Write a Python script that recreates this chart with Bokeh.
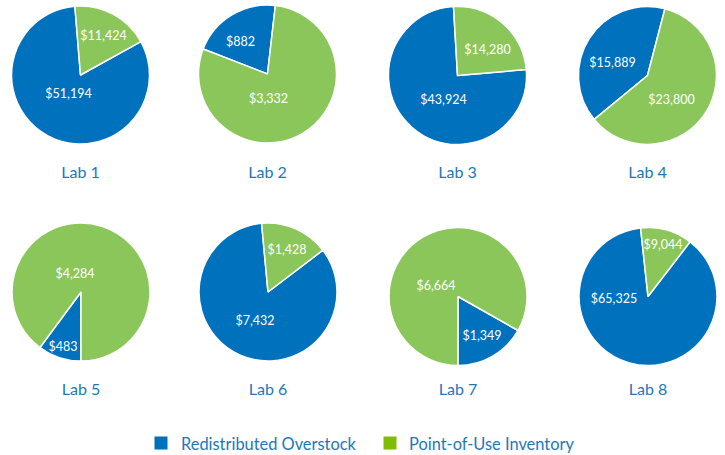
import numpy as np
from bokeh.plotting import figure
from bokeh.models import ColumnDataSource, Range1d
from bokeh.core.properties import value
from bokeh.embed import file_html
from bokeh.resources import INLINE

# ---- data ----
labs = ["Lab 1", "Lab 2", "Lab 3", "Lab 4", "Lab 5", "Lab 6", "Lab 7", "Lab 8"]
redistributed = [51194, 882, 43924, 15889, 483, 7432, 1349, 65325]
point_of_use = [11424, 3332, 14280, 23800, 4284, 1428, 6664, 9044]
series_names = ["Redistributed Overstock", "Point-of-Use Inventory"]

# ---- layout / style ----
W, H = 725, 455
BLUE = "#0071BC"
GREEN = "#8BC65B"
LEG_GREEN = "#80BD00"
TXT = "#2277BB"
FONT = "Lato"
cx = [80, 267, 457, 647, 80.5, 267.5, 457.5, 647.5]
cy = [74.5, 73.5, 75, 75, 291.5, 291.5, 296, 296]
R = 69
blue_start = [61, -68.8, 85, -129.5, 180, 52.7, 119.5, 37.6]   # clockwise deg from 12 o'clock
blue_off = [(-12, 18), (-27, -33), (-14, 24), (-35, -13), (-18, 54), (-13, 28), (24, 39), (-34, 2)]
green_off = [(23, -40), (1, 24), (30, -26), (24, 24), (-6, -19), (19, -43), (-22, -11), (15, -52)]
lab_y = [170.5, 170.5, 170.5, 170.5, 388, 388, 388, 388]

def fy(y):
    return H - y

wx, wy, ws, we, wc = [], [], [], [], []
tx, ty, tt = [], [], []
for i in range(len(labs)):
    b, g = redistributed[i], point_of_use[i]
    tot = b + g
    b_span = 360.0 * b / tot
    c0 = blue_start[i]
    c1 = c0 + b_span
    c2 = c0 + 360.0
    for (a, z, col) in [(c0, c1, BLUE), (c1, c2, GREEN)]:
        wx.append(cx[i]); wy.append(fy(cy[i]))
        ws.append(np.radians(90 - z)); we.append(np.radians(90 - a)); wc.append(col)
    tx.append(cx[i] + blue_off[i][0]); ty.append(fy(cy[i] + blue_off[i][1])); tt.append(f"${b:,}")
    tx.append(cx[i] + green_off[i][0]); ty.append(fy(cy[i] + green_off[i][1])); tt.append(f"${g:,}")

p = figure(width=W, height=H, x_range=Range1d(0, W), y_range=Range1d(0, H),
           output_backend="svg", toolbar_location=None, min_border=0,
           x_axis_location=None, y_axis_location=None)
p.grid.visible = False
p.outline_line_color = None
p.background_fill_color = "white"

wsrc = ColumnDataSource(dict(x=wx, y=wy, s=ws, e=we, c=wc))
p.wedge(x="x", y="y", radius=R, start_angle="s", end_angle="e", direction="anticlock",
        fill_color="c", line_color="white", line_width=1.5, source=wsrc)

tsrc = ColumnDataSource(dict(x=tx, y=ty, t=tt))
p.text(x="x", y="y", text="t", source=tsrc, text_font=value(FONT), text_font_size=value("12.5px"),
       text_color="white", text_align="center", text_baseline="middle")

lsrc = ColumnDataSource(dict(x=cx, y=[fy(v) for v in lab_y], t=labs))
p.text(x="x", y="y", text="t", source=lsrc, text_font=value(FONT), text_font_size=value("16px"),
       text_color=TXT, text_align="center", text_baseline="middle")

# legend
leg_y = fy(442.5)
p.rect(x=[160.5, 389.5], y=[leg_y, leg_y], width=13, height=13, fill_color=[BLUE, LEG_GREEN], line_color=None)
p.text(x=[180.5, 408.5], y=[leg_y, leg_y], text=series_names, text_font=value(FONT),
       text_font_size=value("16.4px"), text_color=TXT, text_align="left", text_baseline="middle")

open("out.html", "w").write(file_html(p, INLINE))
